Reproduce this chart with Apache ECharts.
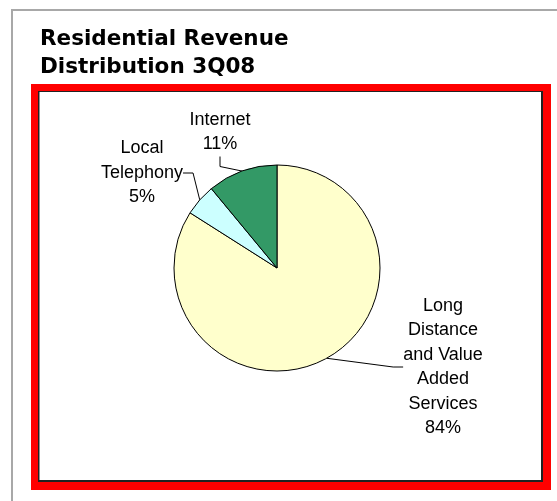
<!DOCTYPE html>
<html>
<head>
<meta charset="utf-8">
<script src="https://cdn.jsdelivr.net/npm/echarts@6/dist/echarts.min.js"></script>
<style>
  html, body { margin: 0; padding: 0; background: #fff; }
  #chart { width: 557px; height: 501px; }
</style>
</head>
<body>
<div id="chart"></div>
<script>
const titleLines = ['Residential Revenue', 'Distribution 3Q08'];
const categories = ['Long Distance and Value Added Services', 'Local Telephony', 'Internet'];
const labelLines = [
  ['Long', 'Distance', 'and Value', 'Added', 'Services'],
  ['Local', 'Telephony'],
  ['Internet']
];
const shares = [84, 5, 11];
const colors = ['#FFFFCC', '#CCFFFF', '#339966'];

// layout (not data)
const pieCenter = [277, 268];
const pieRadius = 103;
const labelOffsets = [[166, 99], [-135, -95], [-57, -136]]; // label centers relative to pie center

const chart = echarts.init(document.getElementById('chart'), null, { renderer: 'canvas' });

const data = categories.map((name, i) => ({
  name: name,
  value: shares[i],
  itemStyle: { color: colors[i] }
}));

chart.setOption({
  animation: false,
  backgroundColor: '#ffffff',
  title: {
    text: titleLines.join('\n'),
    left: 40,
    top: 25,
    padding: 0,
    textStyle: {
      fontFamily: 'DejaVu Sans',
      fontWeight: 'bold',
      fontSize: 21.5,
      lineHeight: 28,
      color: '#000'
    }
  },
  graphic: [
    { type: 'line', silent: true, z: 0, shape: { x1: 11, y1: 10, x2: 557, y2: 10 }, style: { stroke: '#a8a8a8', lineWidth: 2 } },
    { type: 'line', silent: true, z: 0, shape: { x1: 12, y1: 9, x2: 12, y2: 501 }, style: { stroke: '#a8a8a8', lineWidth: 2 } },
    { type: 'rect', silent: true, z: -10, shape: { x: 31, y: 84, width: 520, height: 406 }, style: { fill: '#ff0000' } },
    { type: 'rect', silent: true, z: -9, shape: { x: 38, y: 91, width: 505, height: 391 }, style: { fill: '#222222' } },
    { type: 'rect', silent: true, z: -8, shape: { x: 39.5, y: 92, width: 501.5, height: 388 }, style: { fill: '#ffffff' } }
  ],
  series: [{
    type: 'pie',
    center: pieCenter,
    radius: pieRadius,
    startAngle: 90,
    clockwise: true,
    avoidLabelOverlap: false,
    data: data,
    itemStyle: { borderColor: '#000', borderWidth: 1 },
    emphasis: { disabled: true },
    label: {
      show: true,
      position: 'outside',
      formatter: function (p) {
        return labelLines[p.dataIndex].join('\n') + '\n' + Math.round(p.percent) + '%';
      },
      fontFamily: 'Liberation Sans',
      fontSize: 18,
      lineHeight: 24.5,
      color: '#000',
      align: 'center'
    },
    labelLine: {
      show: true,
      length: 10,
      length2: 10,
      lineStyle: { color: '#000', width: 1 }
    },
    labelLayout: function (params) {
      const off = labelOffsets[params.dataIndex];
      return {
        x: pieCenter[0] + off[0],
        y: pieCenter[1] + off[1],
        align: 'center',
        verticalAlign: 'middle'
      };
    }
  }]
});
</script>
</body>
</html>
